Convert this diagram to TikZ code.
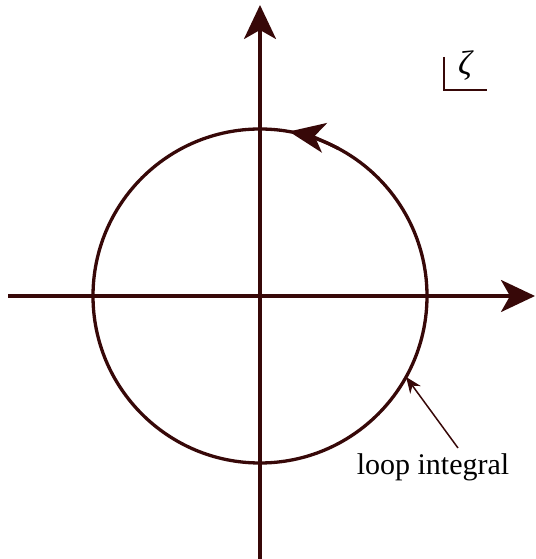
\documentclass[tikz,border=0pt]{standalone}
\usepackage{fontspec}
\setmainfont{Liberation Serif}
\usetikzlibrary{arrows.meta,calc}
\definecolor{ink}{RGB}{55,8,8}
\begin{document}
\begin{tikzpicture}[x=1pt,y=1pt,
  axis/.style={draw=ink,line width=3.3pt,-{Stealth[length=34pt,width=32pt,inset=9pt]}},
  loopline/.style={draw=ink,line width=3.3pt},
  thin/.style={draw=ink,line width=1.4pt},
  lbl/.style={font=\fontsize{30}{34}\selectfont,text=black,inner sep=0pt}]
\useasboundingbox (0,0) rectangle (535,559);
\coordinate (O) at (260,263);
\coordinate (xl) at (8,263);
\coordinate (xr) at (535,263);
\coordinate (yb) at (260,0);
\coordinate (yt) at (260,554);
\draw[axis] (xl) -- (xr);
\draw[axis] (yb) -- (yt);
\draw[loopline] (O) circle (167);
\draw[loopline,-{Stealth[length=36pt,width=30pt,inset=10pt]}] (O) ++(62:167) arc (62:80:167);
\coordinate (c1) at ($(O)+(-29:167)$);
\node[lbl] (lab) at (433,92) {loop integral};
\coordinate (lstart) at (458,111);
\draw[draw=ink,line width=1.5pt,-{Stealth[length=16pt,width=13pt]}] (lstart) -- (c1);
\node[lbl,font=\fontsize{34}{38}\selectfont\itshape] (z) at (465,493) {ζ};
\coordinate (b1) at (444,502);
\coordinate (b2) at (444,469);
\coordinate (b3) at (487,469);
\draw[thin] (b1) -- (b2) -- (b3);
\end{tikzpicture}
\end{document}
